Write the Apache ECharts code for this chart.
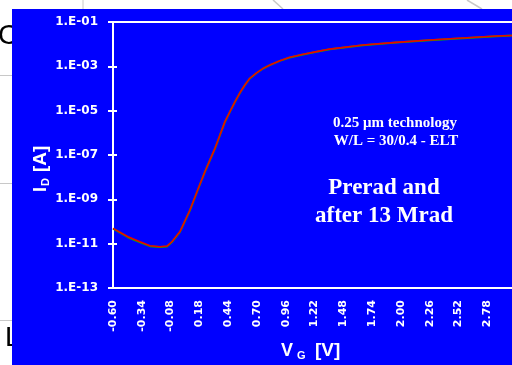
<!DOCTYPE html>
<html>
<head>
<meta charset="utf-8">
<script src="https://cdn.jsdelivr.net/npm/echarts@6/dist/echarts.min.js"></script>
<style>html,body{margin:0;padding:0;background:#fff;}#c{width:512px;height:365px;}</style>
</head>
<body>
<div id="c"></div>
<script>
// Gate voltage [V]
const vg = [-0.60,-0.465,-0.356,-0.266,-0.176,-0.113,-0.068,0.005,0.095,0.170,0.230,0.275,0.321,0.366,0.411,0.456,0.501,0.546,0.591,0.636,0.697,0.757,0.817,0.907,0.997,1.118,1.239,1.359,1.656,1.960,2.261,2.559,2.863,3.04];
// Drain current [A], prerad
const idPrerad = [4.9e-11,2.06e-11,1.22e-11,8.1e-12,7.3e-12,7.8e-12,1.22e-11,3.5e-11,3.3e-10,3.1e-9,1.76e-8,5.9e-8,2.0e-7,8.0e-7,3.2e-6,9.0e-6,2.5e-5,6.4e-5,1.44e-4,2.9e-4,5.1e-4,8.1e-4,1.15e-3,1.79e-3,2.55e-3,3.5e-3,4.6e-3,6.0e-3,9.1e-3,1.21e-2,1.53e-2,1.89e-2,2.32e-2,2.5e-2];
// Drain current [A], after 13 Mrad
const idIrrad = [4.8e-11,1.95e-11,1.15e-11,7.7e-12,7.0e-12,7.5e-12,1.18e-11,3.4e-11,3.2e-10,3.0e-9,1.72e-8,5.8e-8,1.95e-7,7.8e-7,3.1e-6,8.8e-6,2.45e-5,6.3e-5,1.42e-4,2.85e-4,5.0e-4,8.0e-4,1.13e-3,1.76e-3,2.5e-3,3.45e-3,4.5e-3,5.9e-3,9.0e-3,1.2e-2,1.5e-2,1.86e-2,2.3e-2,2.48e-2];
// Axis settings
const xMin = -0.60, xStep = 0.26, xMax = 3.04;
const yMinExp = -13, yMaxExp = -1, yStepExp = 2;

const X0 = xMin; // shift so axis min is 0 (a multiple of the interval)
function toPts(ids){ return vg.map((v,i)=>[v - X0, Math.log10(ids[i]) - yMinExp]); }

const chart = echarts.init(document.getElementById('c'), null, {renderer:'canvas'});
const tickFont = {color:'#fff', fontSize:12, fontWeight:'bold', fontFamily:'DejaVu Sans'};
const yAxisBase = {
  type:'value', min:0, max:yMaxExp - yMinExp, interval:yStepExp,
  splitLine:{show:false}
};
chart.setOption({
  backgroundColor:'#ffffff',
  animation:false,
  grid:{left:113, top:22, width:403, height:266, outerBoundsMode:'none', containLabel:false, show:true, borderColor:'#ffffff', borderWidth:2, backgroundColor:'transparent'},
  xAxis:{
    type:'value', min:0, max:+(xMax - X0).toFixed(2), interval:xStep,
    axisLine:{lineStyle:{color:'#fff', width:2}},
    axisTick:{show:false},
    splitLine:{show:false},
    axisLabel:Object.assign({rotate:90, margin:12, showMaxLabel:false, formatter:v=>(v + X0).toFixed(2)}, tickFont, {fontSize:11})
  },
  yAxis:[
    Object.assign({}, yAxisBase, {
      axisLine:{show:true, lineStyle:{color:'#fff', width:2}},
      axisTick:{show:true, length:5, lineStyle:{color:'#fff', width:2}},
      axisLabel:Object.assign({margin:15, formatter:v=>'1.E-' + String(-(v + yMinExp)).padStart(2,'0')}, tickFont)
    }),
    Object.assign({}, yAxisBase, {
      position:'left',
      axisLine:{show:false},
      axisTick:{show:true, inside:true, length:4, lineStyle:{color:'#fff', width:2}},
      axisLabel:{show:false}
    })
  ],
  series:[
    {type:'line', name:'after 13 Mrad', data:toPts(idIrrad), showSymbol:false, lineStyle:{color:'#00b400', width:2}, z:2},
    {type:'line', name:'Prerad', data:toPts(idPrerad), showSymbol:false, lineStyle:{color:'#f00000', width:1.6}, z:3}
  ],
  graphic:{elements:[
    {type:'text', z:-30, left:-2, top:22, style:{text:'C', fontSize:28, fontFamily:'Liberation Sans', fill:'#000'}},
    {type:'text', z:-30, left:5, top:324, style:{text:'L', fontSize:28, fontFamily:'Liberation Sans', fill:'#000'}},
    {type:'line', z:-30, shape:{x1:83,y1:0,x2:83,y2:9}, style:{stroke:'#c8c8c8', lineWidth:1}},
    {type:'line', z:-30, shape:{x1:273,y1:0,x2:283,y2:9}, style:{stroke:'#c8c8c8', lineWidth:1.5}},
    {type:'line', z:-30, shape:{x1:467,y1:0,x2:482,y2:9}, style:{stroke:'#c8c8c8', lineWidth:1.5}},
    {type:'line', z:-30, shape:{x1:0,y1:75.5,x2:12,y2:75.5}, style:{stroke:'#c8c8c8', lineWidth:1}},
    {type:'line', z:-30, shape:{x1:0,y1:183.5,x2:12,y2:183.5}, style:{stroke:'#c8c8c8', lineWidth:1}},
    {type:'line', z:-30, shape:{x1:0,y1:320.5,x2:12,y2:320.5}, style:{stroke:'#c8c8c8', lineWidth:1}},
    {type:'rect', z:-20, shape:{x:12,y:9,width:500,height:356}, style:{fill:'#0000ff'}},
    // x axis title V_G [V]
    {type:'text', z:10, x:281, y:351, style:{text:'V', fontSize:18, fontWeight:'bold', fontFamily:'Liberation Sans', fill:'#fff', verticalAlign:'middle'}},
    {type:'text', z:10, x:297, y:356, style:{text:'G', fontSize:11, fontWeight:'bold', fontFamily:'Liberation Sans', fill:'#fff', verticalAlign:'middle'}},
    {type:'text', z:10, x:315, y:351, style:{text:'[V]', fontSize:19, fontWeight:'bold', fontFamily:'Liberation Sans', fill:'#fff', verticalAlign:'middle'}},
    // y axis title I_D [A]
    {type:'group', z:10, x:41, y:192, rotation:Math.PI/2, children:[
      {type:'text', x:0, y:0, style:{text:'I', fontSize:18, fontWeight:'bold', fontFamily:'Liberation Sans', fill:'#fff', verticalAlign:'middle'}},
      {type:'text', x:6, y:5, style:{text:'D', fontSize:11, fontWeight:'bold', fontFamily:'Liberation Sans', fill:'#fff', verticalAlign:'middle'}},
      {type:'text', x:20, y:0, style:{text:'[A]', fontSize:19, fontWeight:'bold', fontFamily:'Liberation Sans', fill:'#fff', verticalAlign:'middle'}}
    ]},
    // annotations
    {type:'text', z:10, x:395, y:123, style:{text:'0.25 \u03bcm technology', fontSize:15, fontWeight:'bold', fontFamily:'Liberation Serif', fill:'#fff', align:'center', verticalAlign:'middle'}},
    {type:'text', z:10, x:396, y:141, style:{text:'W/L = 30/0.4 - ELT', fontSize:15, fontWeight:'bold', fontFamily:'Liberation Serif', fill:'#fff', align:'center', verticalAlign:'middle'}},
    {type:'text', z:10, x:384, y:188, style:{text:'Prerad and', fontSize:23, fontWeight:'bold', fontFamily:'Liberation Serif', fill:'#fff', align:'center', verticalAlign:'middle'}},
    {type:'text', z:10, x:384, y:216, style:{text:'after 13 Mrad', fontSize:23, fontWeight:'bold', fontFamily:'Liberation Serif', fill:'#fff', align:'center', verticalAlign:'middle'}}
  ]}
});
</script>
</body>
</html>
